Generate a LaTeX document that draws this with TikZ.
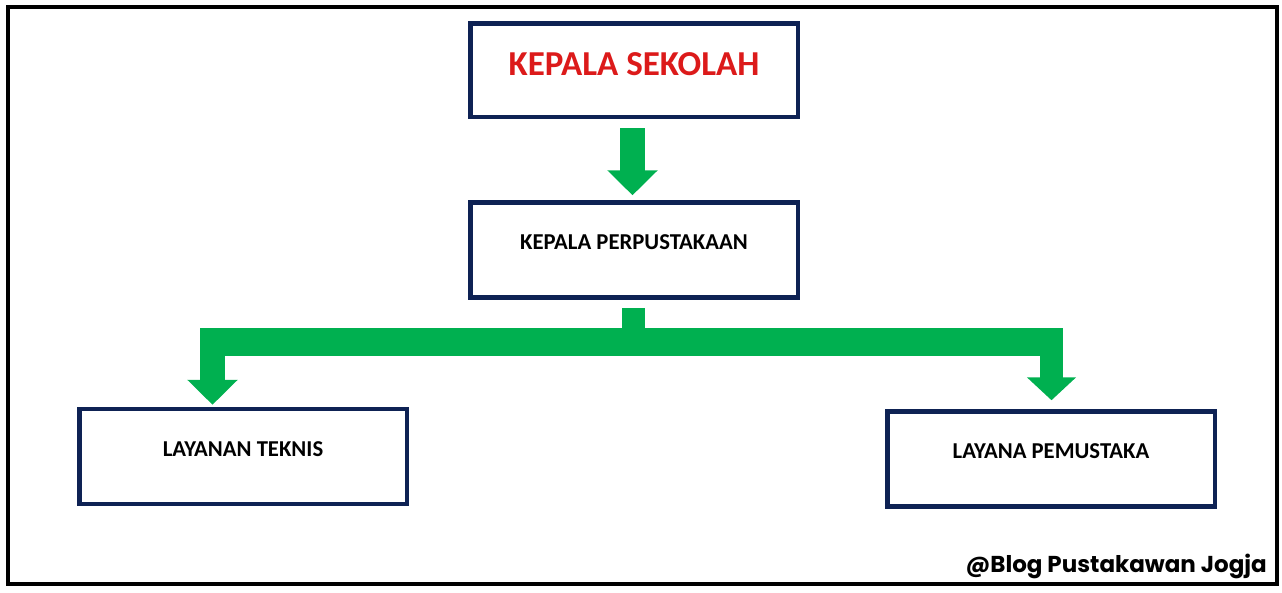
\documentclass[tikz,border=0pt]{standalone}
\usepackage{fontspec}
\setmainfont{Carlito}
\newfontfamily\creditfont{Poppins}
\usetikzlibrary{arrows.meta,calc}
\definecolor{boxblue}{HTML}{0E2254}
\definecolor{flowgreen}{HTML}{00B050}
\definecolor{titlered}{HTML}{DC1A1A}
\begin{document}
\begin{tikzpicture}[x=1pt,y=-1pt,
box/.style={draw=boxblue,line width=4.5pt,fill=white,minimum width=327.5pt,minimum height=95pt,
  font=\bfseries\fontsize{22.7}{25}\selectfont,text height=15pt,text depth=16pt},
flow/.style={draw=flowgreen,line width=25pt},
tip/.style={-{Triangle[width=49pt,length=25pt]}}]
\useasboundingbox (0,0) rectangle (1282,592);
\draw[line width=4.5pt] (8,7) rectangle (1277,584);
\node[box,minimum height=93.5pt,text=titlered,font=\bfseries\fontsize{35}{38}\selectfont,
  text height=22pt,text depth=12pt] (kepsek) at (634,70) {KEPALA SEKOLAH};
\node[box] (kapus) at (634,250) {KEPALA PERPUSTAKAAN};
\node[box] (teknis) at (243,456.5) {LAYANAN TEKNIS};
\node[box] (pemustaka) at (1051,459) {LAYANA PEMUSTAKA};
\coordinate (split) at (633.5,342);
\coordinate (elbowL) at (212.5,342);
\coordinate (elbowR) at (1051.5,342);
\draw[flow,tip] ($(kepsek.south)+(-1.5,9)$) -- ($(kapus.north)+(-1.5,-5)$);
\draw[flow,line width=23pt] ($(kapus.south)+(-0.5,8)$) -- (split);
\draw[flow,line width=28pt] ($(elbowL)+(-12.5,0)$) -- ($(elbowR)+(11.5,0)$);
\draw[flow,tip] (elbowL) -- ($(elbowL |- teknis.north)+(0,-2)$);
\draw[flow,line width=23pt,-{Triangle[width=48pt,length=23pt]}] (elbowR) -- ($(elbowR |- pemustaka.north)+(0,-9)$);
\node[anchor=base east,inner sep=0pt,font=\creditfont\bfseries\fontsize{23}{25}\selectfont] (credit) at (1267,572) {@Blog Pustakawan Jogja};
\end{tikzpicture}
\end{document}
